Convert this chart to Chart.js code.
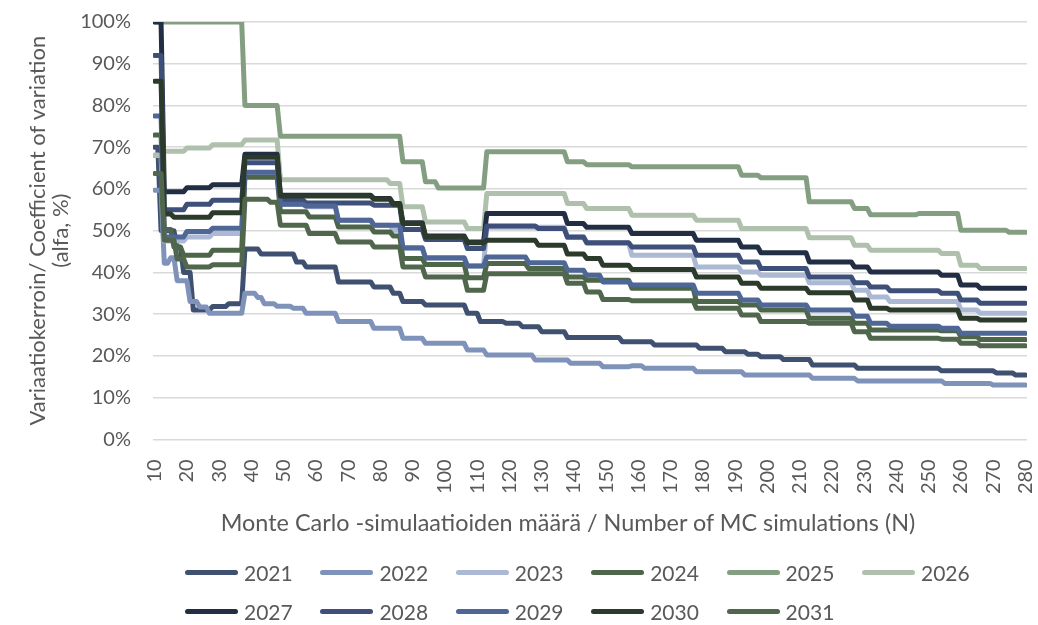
<!DOCTYPE html>
<html>
<head>
<meta charset="utf-8">
<script src="https://cdn.jsdelivr.net/npm/chart.js@4/dist/chart.umd.min.js"></script>
<style>
  html, body { margin: 0; padding: 0; background: #ffffff; }
  #wrap { position: relative; width: 1038px; height: 625px; }
  #overlay { position: absolute; left: 0; top: 0; width: 1038px; height: 625px; pointer-events: none;
             font-family: Lato, sans-serif; color: #595959; }
  .item { position: absolute; display: flex; align-items: center; height: 26px; white-space: nowrap; font-size: 21px; }
  .swatch { width: 53px; height: 5px; border-radius: 3px; margin-right: 6px; }
  #xtitle { position: absolute; left: 0; width: 1136px; top: 508px; text-align: center; font-size: 23.4px; white-space: nowrap; }
</style>
</head>
<body>
<div id="wrap">
  <canvas id="c" width="1038" height="625"></canvas>
  <div id="overlay"><div id="xtitle">Monte Carlo -simulaatioiden määrä / Number of MC simulations (N)</div></div>
</div>
<script>
// X tick labels: number of Monte Carlo runs
const tickN = [10,20,30,40,50,60,70,80,90,100,110,120,130,140,150,160,170,180,190,200,210,220,230,240,250,260,270,280];
const yTicks = [0,10,20,30,40,50,60,70,80,90,100];
const years = ['2021','2022','2023','2024','2025','2026','2027','2028','2029','2030','2031'];

// Each series: first N of every run of equal values, and the value (%) on that run
const n2021 = [10,12,17,19,22,28,33,38,43,54,57,67,78,84,87,94,107,111,119,124,130,138,155,165,179,187,194,198,205,214,228,254,271,277];
const v2021 = [70,50,46,40,31,31.8,32.5,45.6,44.4,42.5,41.3,37.7,36.5,35.0,33.0,32.2,30.2,28.2,27.8,27.0,25.8,24.4,23.4,22.6,21.8,21.0,20.4,19.8,19.1,17.8,17.0,16.4,15.9,15.4];

const n2022 = [10,13,15,17,21,24,27,38,42,44,48,53,57,67,78,87,94,107,113,128,139,149,158,162,178,193,214,228,255,270];
const v2022 = [59.7,42.2,43.5,38,33,31.7,30.2,35.0,34.0,32.5,31.9,31.4,30.2,28.2,26.6,24.2,23.0,21.4,20.2,19.0,18.2,17.4,17.6,17.0,16.2,15.4,14.6,14.0,13.4,13.0];

const n2023 = [10,13,20,28,38,49,57,67,78,84,87,94,107,113,138,144,158,178,192,198,213,227,232,238,260,266];
const v2023 = [68.1,47.5,48.5,49.3,63.3,56.3,55.7,52.5,51.3,50.1,45.7,43.3,41.5,50.8,48.6,47.0,44.1,41.3,40.1,39.3,37.5,35.7,34.1,33.0,31.0,30.2];

const n2024 = [10,13,16,19,28,38,49,58,67,78,84,87,94,107,113,126,138,144,158,178,192,198,213,227,232,254,260,266];
const v2024 = [72.9,50.3,46.1,44.1,45.3,62.8,54.5,53.3,50.9,49.7,48.7,43.3,41.9,38.7,42.1,40.9,38.9,38.1,36.2,33.0,32.2,31.0,29.0,27.8,26.2,26.0,24.6,23.9];

const n2025 = [10,38,49,87,94,98,113,138,144,158,192,198,213,227,232,247,260,275];
const v2025 = [100,80,72.6,66.5,61.7,60.2,68.9,66.5,65.8,65.3,63.3,62.7,56.9,55.3,53.8,54.1,50.1,49.6];

const n2026 = [10,13,20,28,38,49,83,87,94,107,113,138,144,158,178,192,213,227,232,254,260,266];
const v2026 = [68,69,69.8,70.6,71.7,62.2,61.3,55.7,52.1,50.5,58.9,56.5,55.3,53.7,52.5,50.5,48.3,46.5,45.3,44.5,41.7,40.9];

const n2027 = [10,13,20,28,38,49,78,84,87,94,107,113,138,144,158,178,192,198,213,227,232,254,260,266];
const v2027 = [100,59.3,60.3,61.0,68.3,58.5,57.7,56.5,51.9,48.7,47.3,54.1,51.7,50.8,49.3,47.7,46.1,44.7,42.5,41.3,40.1,39.3,37.0,36.2];

const n2028 = [10,13,20,28,38,49,57,78,87,94,107,113,129,138,144,158,178,192,198,213,227,232,238,254,260,266];
const v2028 = [92,55.0,56.3,57.3,66.3,57.3,56.6,56.1,50.3,47.9,45.7,51.1,50.5,48.4,47.1,46.1,44.1,42.5,40.9,38.9,37.5,36.5,35.6,35.0,33.4,32.6];

const n2029 = [10,13,20,28,38,49,57,67,78,87,94,107,113,126,138,144,149,158,178,192,198,213,227,232,238,254,260];
const v2029 = [77.5,48.5,49.8,50.6,64.0,56.3,55.9,52.5,51.3,45.9,43.5,41.5,43.7,42.3,40.5,39.3,37.7,37.0,35.0,33.4,32.2,31.0,29.5,27.8,27.1,26.6,25.4];

const n2030 = [10,13,16,28,38,49,78,84,87,94,107,113,129,138,144,149,158,178,192,198,213,227,232,238,260,266];
const v2030 = [85.8,54.0,53.2,54.3,67.6,58.3,57.5,56.3,51.7,48.5,47.1,47.7,46.5,44.4,43.3,41.7,40.7,38.9,37.4,36.2,35.1,33.4,31.4,31.0,29.0,28.6];

const n2031 = [10,13,17,20,28,38,46,49,58,67,78,87,94,107,113,138,144,149,158,178,192,198,213,227,232,254,260,266];
const v2031 = [63.7,47.7,43.2,41.3,41.8,57.5,56.8,51.3,49.3,47.3,46.1,41.3,38.9,35.7,39.7,37.4,35.3,33.5,33.2,31.4,29.8,28.2,27.8,25.8,24.2,24.0,23.0,22.4];

const runStarts = [n2021,n2022,n2023,n2024,n2025,n2026,n2027,n2028,n2029,n2030,n2031];
const runValues = [v2021,v2022,v2023,v2024,v2025,v2026,v2027,v2028,v2029,v2030,v2031];

// Line colours per year
const colors = ['#3F5070','#7F92B9','#ACB9D4','#4D6549','#849E82','#AFC1AD','#222E43','#3E5079','#4F6797','#2B3A2B','#50674D'];

const lastN = tickN[tickN.length - 1];

// A value holds from the start of its run to the N before the next run starts
function runsToPoints(starts, values) {
  const pts = [];
  for (let i = 0; i < starts.length; i++) {
    const end = i + 1 < starts.length ? starts[i + 1] - 1 : lastN;
    pts.push({ x: starts[i], y: values[i] });
    if (end > starts[i]) pts.push({ x: end, y: values[i] });
  }
  return pts;
}

const FONT = 'Lato, sans-serif';
const GREY = '#595959';

const datasets = years.map((y, i) => ({
  label: y,
  data: runsToPoints(runStarts[i], runValues[i]),
  borderColor: colors[i],
  backgroundColor: colors[i],
  borderWidth: 5,
  borderCapStyle: 'round',
  borderJoinStyle: 'round',
  pointRadius: 0,
  tension: 0,
  fill: false,
  order: years.length - i
}));

const chart = new Chart(document.getElementById('c'), {
  type: 'line',
  data: { datasets },
  options: {
    responsive: false,
    animation: false,
    events: [],
    layout: { padding: { left: 0, right: 11, top: 22, bottom: 91 } },
    plugins: { legend: { display: false }, tooltip: { enabled: false } },
    scales: {
      x: {
        type: 'linear',
        min: tickN[0] - 0.5,
        max: lastN + 0.5,
        afterBuildTicks: s => { s.ticks = tickN.map(v => ({ value: v })); },
        afterFit: s => { s.height = 94.7; s.paddingLeft = 0; s.paddingRight = 0; },
        grid: { display: false },
        border: { display: false },
        ticks: {
          autoSkip: false, minRotation: 90, maxRotation: 90, padding: 12,
          color: GREY, font: { family: FONT, size: 20 },
          callback: v => String(v)
        }
      },
      y: {
        min: 0, max: 100,
        afterBuildTicks: s => { s.ticks = yTicks.map(v => ({ value: v })); },
        afterFit: s => { s.width = 153; s.paddingTop = 0; s.paddingBottom = 0; },
        grid: { color: '#D9D9D9', lineWidth: 1.5, drawTicks: false },
        border: { display: false },
        ticks: { padding: 22, color: GREY, font: { family: FONT, size: 20 }, callback: v => v + '%' },
        title: {
          display: true,
          text: ['Variaatiokerroin/ Coefficient of variation', '(alfa, %)'],
          color: GREY, font: { family: FONT, size: 22, lineHeight: 1.05 },
          padding: { top: 26, bottom: 0 }
        }
      }
    }
  }
});

// Legend: two rows laid out in fixed columns, built from the chart's datasets
const overlay = document.getElementById('overlay');
chart.data.datasets.forEach((ds, i) => {
  const row = i < 6 ? 0 : 1;
  const col = i < 6 ? i : i - 6;
  const item = document.createElement('div');
  item.className = 'item';
  item.style.left = (185 + 135.4 * col) + 'px';
  item.style.top = (559 + 39 * row) + 'px';
  const sw = document.createElement('span');
  sw.className = 'swatch';
  sw.style.background = ds.borderColor;
  const tx = document.createElement('span');
  tx.textContent = ds.label;
  item.appendChild(sw);
  item.appendChild(tx);
  overlay.appendChild(item);
});
</script>
</body>
</html>
